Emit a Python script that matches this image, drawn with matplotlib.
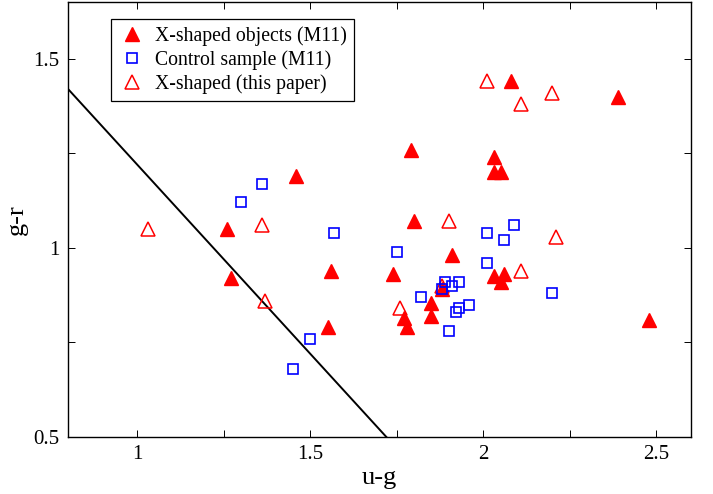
import matplotlib
matplotlib.use("Agg")
import matplotlib.pyplot as plt
import numpy as np

plt.rcParams['font.family'] = ['Liberation Serif', 'DejaVu Serif']

# X-shaped objects (M11): filled red triangles
xm11_ug = [1.26, 1.46, 2.08, 2.39, 1.79, 2.03, 2.03, 2.05, 1.80, 1.91, 1.74,
           2.03, 2.06, 2.05, 2.48, 1.88, 1.85, 1.85, 1.77, 1.78, 1.27, 1.56, 1.55]
xm11_gr = [1.05, 1.19, 1.44, 1.40, 1.26, 1.24, 1.20, 1.20, 1.07, 0.98, 0.93,
           0.925, 0.93, 0.91, 0.81, 0.89, 0.855, 0.82, 0.815, 0.79, 0.92, 0.94, 0.79]

# control sample (M11): open blue squares
ctrl_ug = [1.30, 1.36, 1.57, 2.01, 2.09, 2.06, 1.75, 2.01, 2.20, 1.89, 1.93,
           1.91, 1.88, 1.82, 1.96, 1.93, 1.92, 1.90, 1.50, 1.45]
ctrl_gr = [1.12, 1.17, 1.04, 1.04, 1.06, 1.02, 0.99, 0.96, 0.88, 0.91, 0.91,
           0.90, 0.89, 0.87, 0.85, 0.84, 0.83, 0.78, 0.76, 0.68]

# X-shaped (this paper): open red triangles
new_ug = [1.03, 1.36, 2.01, 2.20, 2.11, 1.90, 2.21, 2.11, 1.76, 1.37, 1.88]
new_gr = [1.05, 1.06, 1.44, 1.41, 1.38, 1.07, 1.03, 0.94, 0.84, 0.86, 0.90]

# separation line g-r = 2.22 - (u-g)
line_ug = [0.70, 1.80]
line_gr = [1.52, 0.42]

fig = plt.figure(figsize=(7.13, 4.94), dpi=100)
ax = fig.add_axes([0.0954, 0.1154, 0.8736, 0.8806])

ax.plot(line_ug, line_gr, color='black', lw=1.4, zorder=1)

ax.plot(new_ug, new_gr, '^', ms=9.5, mfc='none', mec='red', mew=1.1,
        ls='none', label='X-shaped (this paper)', zorder=2)
ax.plot(xm11_ug, xm11_gr, '^', ms=10, mfc='red', mec='red', mew=1.0,
        ls='none', label='X-shaped objects (M11)', zorder=3)
ax.plot(ctrl_ug, ctrl_gr, 's', ms=7.5, mfc='none', mec='blue', mew=1.2,
        ls='none', label='Control sample (M11)', zorder=4)

xt = [1.0, 1.25, 1.5, 1.75, 2.0, 2.25, 2.5]
ax.set_xticks(xt)
ax.set_xticklabels(['1', '', '1.5', '', '2', '', '2.5'])
yt = [0.5, 0.75, 1.0, 1.25, 1.5]
ax.set_yticks(yt)
ax.set_yticklabels(['0.5', '', '1', '', '1.5'])
ax.set_xlim(0.8, 2.6)
ax.set_ylim(0.5, 1.65)

ax.tick_params(direction='in', top=True, right=True, length=5, width=0.7,
               labelsize=15, pad=6)
for s in ax.spines.values():
    s.set_linewidth(1.0)

ax.set_xlabel('u-g', fontsize=19, labelpad=2)
ax.set_ylabel('g-r', fontsize=19, labelpad=4)

h, l = ax.get_legend_handles_labels()
order = [1, 2, 0]
leg = ax.legend([h[i] for i in order], [l[i] for i in order],
                loc='upper left', bbox_to_anchor=(0.069, 0.961),
                borderaxespad=0, fancybox=False, framealpha=1,
                edgecolor='black', fontsize=14.2, handletextpad=0.5,
                handlelength=1.4, labelspacing=0.22, borderpad=0.35)
leg.get_frame().set_linewidth(0.9)

fig.savefig('out.png', dpi=100)
